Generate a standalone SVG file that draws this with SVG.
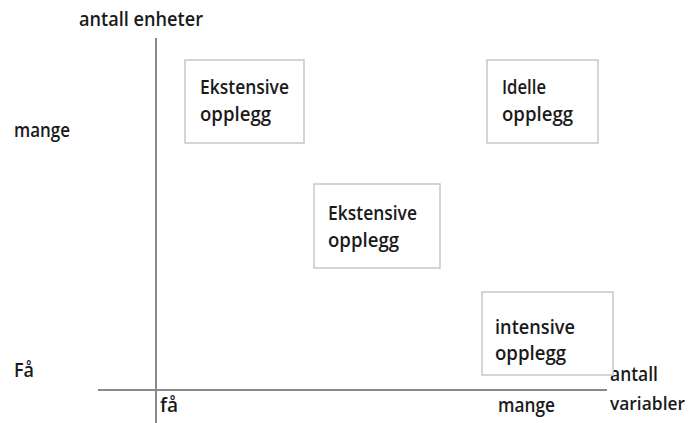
<svg xmlns="http://www.w3.org/2000/svg" width="693" height="423" viewBox="0 0 693 423">
<style>
text{font-family:"Open Sans","Liberation Sans",Arial,sans-serif;font-size:20px;font-weight:600;fill:#1a1a1a}
.box{fill:#fff;stroke:#c8c8c8;stroke-width:1.5}
.axis{stroke:#8a8a8a;stroke-width:2;fill:none}
</style>
<rect width="693" height="423" fill="#fff"/>
<g id="connectors">
<line class="axis" x1="156" y1="38" x2="156" y2="423"/>
<line class="axis" x1="98" y1="390" x2="607" y2="390"/>
</g>
<g id="labels">
<text x="79" y="26" textLength="124" lengthAdjust="spacingAndGlyphs">antall enheter</text>
<text x="14" y="137" textLength="56" lengthAdjust="spacingAndGlyphs">mange</text>
<text x="14" y="377" textLength="20" lengthAdjust="spacingAndGlyphs">Få</text>
<text x="160" y="412" textLength="18" lengthAdjust="spacingAndGlyphs">få</text>
<text x="498" y="412" textLength="57" lengthAdjust="spacingAndGlyphs">mange</text>
<text x="610" y="381" textLength="48" lengthAdjust="spacingAndGlyphs">antall</text>
<text x="610" y="410" style="font-size:18px" textLength="75" lengthAdjust="spacingAndGlyphs">variabler</text>
</g>
<g id="node1">
<rect class="box" x="185" y="60" width="119" height="83"/>
<text x="200" y="94" textLength="89" lengthAdjust="spacingAndGlyphs">Ekstensive</text>
<text x="200" y="121" textLength="71" lengthAdjust="spacingAndGlyphs">opplegg</text>
</g>
<g id="node2">
<rect class="box" x="487" y="60" width="111" height="83"/>
<text x="502" y="94" textLength="44" lengthAdjust="spacingAndGlyphs">Idelle</text>
<text x="502" y="121" textLength="71" lengthAdjust="spacingAndGlyphs">opplegg</text>
</g>
<g id="node3">
<rect class="box" x="314" y="184" width="126" height="84"/>
<text x="328" y="220" textLength="89" lengthAdjust="spacingAndGlyphs">Ekstensive</text>
<text x="328" y="247" textLength="71" lengthAdjust="spacingAndGlyphs">opplegg</text>
</g>
<g id="node4">
<rect class="box" x="482" y="292" width="131" height="83"/>
<text x="495" y="334" textLength="80" lengthAdjust="spacingAndGlyphs">intensive</text>
<text x="495" y="360" textLength="71" lengthAdjust="spacingAndGlyphs">opplegg</text>
</g>
</svg>
